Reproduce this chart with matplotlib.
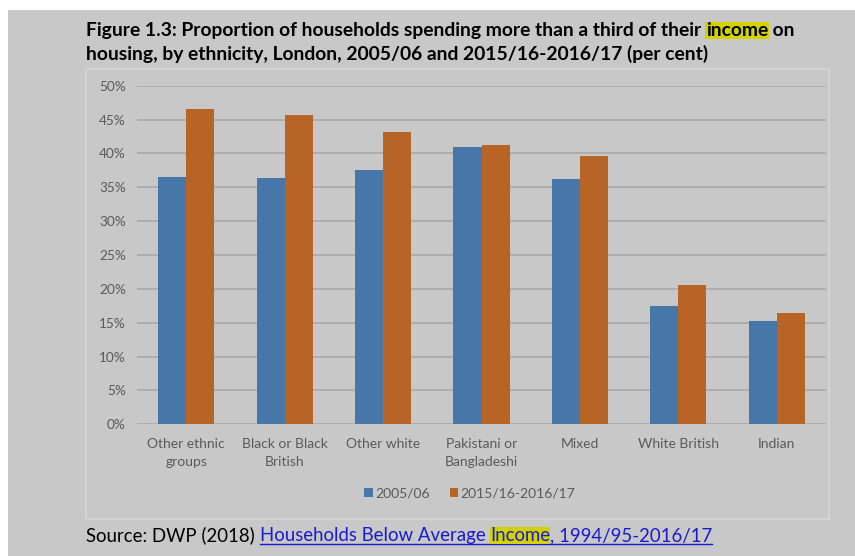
import matplotlib.pyplot as plt
import numpy as np
from matplotlib.patches import Rectangle

categories = ['Other ethnic\ngroups', 'Black or Black\nBritish', 'Other white', 'Pakistani or\nBangladeshi',
              'Mixed', 'White British', 'Indian']
y_2005 = [36.5, 36.3, 37.5, 40.9, 36.2, 17.4, 15.2]
y_2015 = [46.5, 45.6, 43.1, 41.2, 39.6, 20.6, 16.4]
series_names = ['2005/06', '2015/16-2016/17']

bg = '#c8c8c8'
blue = '#4677a8'
orange = '#b86427'
tick_col = '#5a5a5a'
font = 'Lato'

fig = plt.figure(figsize=(8.55, 5.56), dpi=100)
fig.patch.set_facecolor('white')
# grey page area
fig.add_artist(Rectangle((8 / 855, 0), 1, 1 - 10 / 556, transform=fig.transFigure,
                         facecolor=bg, edgecolor='none', zorder=-10))
# chart box
fig.add_artist(Rectangle((86 / 855, 1 - 519 / 556), (829 - 86) / 855, (519 - 69) / 556,
                         transform=fig.transFigure, facecolor=bg, edgecolor='#d6d6d6', lw=1.2, zorder=-5))

ax = fig.add_axes([137 / 855, 1 - 424.3 / 556, (826 - 137) / 855, (424.3 - 85.7) / 556])
ax.set_facecolor('none')
x = np.arange(len(categories))
w = 0.285
ax.bar(x - w / 2, y_2005, w, color=blue, label=series_names[0], zorder=3)
ax.bar(x + w / 2, y_2015, w, color=orange, label=series_names[1], zorder=3)
ax.set_xlim(-0.5, len(categories) - 0.5)
ax.set_ylim(0, 50)
ax.set_yticks(np.arange(0, 51, 5))
ax.set_yticklabels([f'{v}%' for v in range(0, 51, 5)], color=tick_col, fontsize=9.8, family=font)
ax.set_xticks(x)
ax.set_xticklabels(categories, color=tick_col, fontsize=10, family=font, linespacing=1.6)
ax.tick_params(length=0, pad=8)
ax.tick_params(axis='x', pad=10)
ax.grid(axis='y', color='#a9a9a9', lw=1.2, zorder=0)
for s in ax.spines.values():
    s.set_visible(False)

leg = fig.legend(loc='center', bbox_to_anchor=(470 / 855, 1 - 493 / 556), ncol=2, frameon=False,
                 handlelength=0.6, handleheight=0.6, handletextpad=0.2, columnspacing=1.4,
                 prop={'family': font, 'size': 10})
for t in leg.get_texts():
    t.set_color(tick_col)

fig.canvas.draw()
r = fig.canvas.get_renderer()
link = '#1a1ad0'


def write_pieces(pieces, x0, y0, size, weight='normal'):
    xx = x0
    for txt, col, hl in pieces:
        t = fig.text(xx / 855, 1 - y0 / 556, txt, color=col, fontsize=size, family=font,
                     weight=weight, va='baseline', ha='left')
        if hl:
            t.set_bbox(dict(facecolor='#d2d200', edgecolor='none', pad=0.3))
        bb = t.get_window_extent(renderer=r)
        if col == link:
            fig.add_artist(plt.Line2D([xx / 855, bb.x1 / 855],
                                      [(556 - y0 - 3) / 556] * 2, color=col, lw=1.0,
                                      transform=fig.transFigure))
        xx = bb.x1


write_pieces([('Figure 1.3: Proportion of households spending more than a third of their ', 'black', False),
              ('income', 'black', True), (' on', 'black', False)], 86, 36, 13.9, weight='bold')
write_pieces([('housing, by ethnicity, London, 2005/06 and 2015/16-2016/17 (per cent)', 'black', False)],
             86, 60, 13.9, weight='bold')
write_pieces([('Source: DWP (2018) ', 'black', False), ('Households Below Average ', link, False),
              ('Income', link, True), (', 1994/95-2016/17', link, False)], 86, 541, 13.4)

fig.savefig('out.png', dpi=100, facecolor=fig.get_facecolor())
